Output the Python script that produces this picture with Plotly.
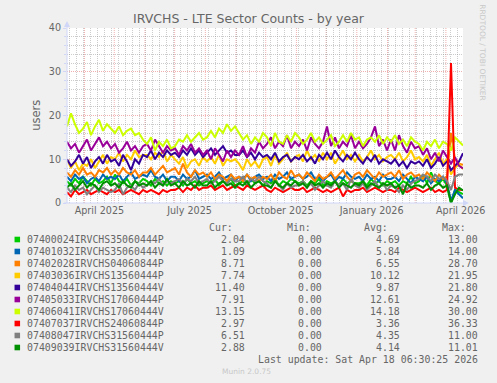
import pandas as pd
import plotly.graph_objects as go

# ---- data -------------------------------------------------------------------
START = "2025-03-14 06:30"
END = "2026-04-18 06:30"

names = [
    "07400024IRVCHS35060444P", "07401032IRVCHS35060444V", "07402028IRVCHS04060844P",
    "07403036IRVCHS13560444P", "07404044IRVCHS13560444V", "07405033IRVCHS17060444P",
    "07406041IRVCHS17060444V", "07407037IRVCHS24060844P", "07408047IRVCHS31560444P",
    "07409039IRVCHS31560444V",
]
colors = ["#00CC00", "#0066B3", "#FF8000", "#FFCC00", "#330099",
          "#990099", "#CCFF00", "#FF0000", "#808080", "#008F00"]

cur = [2.04, 1.09, 8.71, 7.74, 11.40, 7.91, 13.15, 2.97, 6.51, 2.88]
mins = [0.00, 0.00, 0.00, 0.00, 0.00, 0.00, 0.00, 0.00, 0.00, 0.00]
avg = [4.69, 5.84, 6.55, 10.12, 9.87, 12.61, 14.18, 3.36, 4.35, 4.14]
mx = [13.00, 14.00, 28.70, 21.95, 21.80, 24.92, 30.00, 36.33, 11.00, 11.01]

green_p = [5, 4, 5.5, 4.5, 6, 5, 4, 5.5, 4.5, 5, 6, 4.5,
           6.5, 5, 4.5, 5.5, 4, 5, 4.5, 5.5,
           5, 4, 5.5, 4.5, 5, 4, 5,
           4.5, 5, 4, 5.5, 4.5, 5, 4, 4.5,
           5, 4.5, 5.5, 4, 5, 4.5, 5.5, 4,
           4.5, 5, 4, 5.5, 4.5, 5, 4,
           5, 4.5, 5.5, 4, 5, 4.5, 5.5, 5,
           4.5, 5, 4, 5, 4.5, 5.5, 4,
           5, 4.5, 5, 4, 5.5, 4.5, 5, 4.5,
           4.5, 5, 4, 5.5, 4.5, 5, 4, 5,
           4.5, 5, 4, 5, 4.5, 6, 4.5,
           5, 6.5, 4.5, 7, 5, 4.5, 5.5, 4,
           0, 3, 2.5, 2.04]
blue_v = [6, 5, 6.5, 5.5, 6, 4.5, 5.5, 6, 5, 6.5, 5.5, 6,
          5.5, 6.5, 5, 6, 7, 5.5, 6, 6.5,
          6, 7.5, 6, 5.5, 6.5, 5, 6,
          6, 5, 6.5, 5.5, 6, 7.5, 5.5, 6,
          6.5, 5.5, 6, 7, 5.5, 6, 6.5, 5,
          6, 5.5, 6.5, 5, 6, 6.5, 5.5,
          6, 5, 6.5, 5.5, 6, 7, 5.5, 6,
          6.5, 5.5, 6, 7, 5.5, 6, 5,
          6, 6.5, 5, 6, 5.5, 7, 6, 5.5,
          6, 5, 6.5, 5.5, 6, 5, 6.5, 5.5,
          5.5, 6, 5, 6.5, 5.5, 4.5, 6,
          5.5, 5, 6, 4.5, 5.5, 5, 6, 4.5,
          0.5, 3, 2, 1.09]
orange_p = [7, 6, 7.5, 6.5, 8, 6.5, 7, 6, 7.5, 7, 8, 6.5,
            7.5, 6.5, 8, 7, 6.5, 7.5, 6, 7,
            7, 8, 6.5, 7.5, 8.5, 7, 7.5,
            8, 6.5, 9, 7, 6, 7.5, 6.5, 7,
            6, 7, 5.5, 6.5, 6, 5, 6.5, 5.5,
            6, 5, 6.5, 5.5, 6, 5, 6,
            5.5, 6.5, 5, 7, 6, 5.5, 7.5, 6,
            6.5, 5.5, 7, 6, 5, 6.5, 5.5,
            6, 7, 5.5, 6.5, 7.5, 6, 5, 6.5,
            7, 6, 7.5, 6.5, 5.5, 7, 6, 6.5,
            7, 6, 7.5, 5.5, 6.5, 7, 6,
            6.5, 5.5, 7, 6, 5, 6.5, 5.5, 6,
            16, 10, 9, 8.71]
gold_p = [10, 8, 9.5, 7.5, 9, 8.5, 10, 8, 9.5, 11, 9, 10.5,
          10, 11.5, 9.5, 11, 10, 12, 10.5, 11,
          11, 10, 11.5, 10.5, 12, 9.5, 11,
          10, 9, 10.5, 8, 9.5, 10, 8.5, 10.5,
          9.5, 10.5, 9, 11, 8.5, 10, 9.5, 10,
          9, 7.5, 10, 8.5, 9.5, 8, 10,
          10.5, 8.5, 11, 9, 10, 11.5, 9.5, 10.5,
          11, 9.5, 12, 10, 11, 9.5, 11.5,
          10, 11.5, 9, 10.5, 12, 10, 11, 9.5,
          11, 9.5, 10.5, 12, 10, 11, 9.5, 10.5,
          11, 10, 11.5, 9.5, 10.5, 12, 10,
          10.5, 9.5, 11, 8.5, 10, 11.5, 9, 10,
          6.5, 8, 9, 7.74]
indigo_v = [10, 8.5, 9.5, 11, 9, 10.5, 8, 9.5, 10.5, 9, 11, 9.5,
            10, 8.5, 11, 9.5, 7.5, 10, 9, 11,
            10.5, 12, 10, 11.5, 10.5, 12, 11,
            11.5, 10.5, 12, 11, 12.5, 11, 12, 10.5,
            11.5, 12.5, 11, 12, 13, 11.5, 12, 11,
            11, 12, 10.5, 11.5, 10, 11.5, 10.5,
            11, 10, 11.5, 9.5, 10.5, 11, 9.5, 10.5,
            10, 11, 9.5, 10.5, 9, 11, 10,
            11.5, 10, 12, 10.5, 9.5, 11, 10, 11.5,
            10, 9, 10.5, 9.5, 11, 9, 10, 9.5,
            9, 10, 8.5, 9.5, 8, 9.5, 9,
            9.5, 8.5, 10, 8, 9, 10.5, 8.5, 9.5,
            7.5, 8.5, 9.5, 11.4]
purple_p = [14, 12.5, 13.5, 11.5, 13, 14.5, 12, 13.5, 15, 13, 14, 12.5,
            13.5, 11.5, 12.5, 14, 12, 13, 11.5, 13,
            13.5, 12, 14.5, 13, 11.5, 13, 12,
            12.5, 11, 13, 12, 13.5, 11.5, 12.5, 11,
            12, 10, 12.5, 11, 9.5, 12, 10.5, 12,
            11, 13, 10.5, 12.5, 11.5, 14, 12.5,
            13.5, 15, 12.5, 14, 13, 15.5, 12.5, 14,
            13, 14.5, 12, 15, 13.5, 12.5, 14,
            17.5, 13, 15, 12.5, 14, 13, 15.5, 12.5,
            14, 12.5, 13.5, 15, 17.5, 13, 14.5, 12,
            14.5, 12, 15.5, 13, 11.5, 14, 12.5,
            13, 11, 12.5, 10, 11.5, 9.5, 12, 10.5,
            9, 10.5, 8.5, 7.91]
lime_v = [17.5, 20.5, 18, 16, 17, 18.5, 15.5, 17.5, 19, 16.5, 18, 17,
          16, 17.5, 15.5, 16.5, 17, 15.5, 16, 14.5,
          13.5, 15, 12, 14, 13, 14.5, 12.5,
          13, 14.5, 14, 15.5, 14, 15, 16, 14.5,
          15, 16.5, 15, 17, 16, 18, 16.5, 17.5,
          16, 14.5, 15.5, 13.5, 15, 14, 16,
          15, 13, 16, 14, 13.5, 15.5, 14, 16,
          15, 13.5, 14.5, 16, 14, 15, 13.5,
          14.5, 15.5, 13, 14, 15.5, 14, 16, 14.5,
          15, 13, 14.5, 15, 14, 15.5, 13.5, 15,
          14, 15.5, 13.5, 14.5, 13, 15, 14,
          13.5, 12, 14, 13, 14.5, 12.5, 14, 13.5,
          12, 15, 14, 13.15]
red_p = [2.5, 1.5, 3, 2, 2.5, 3, 2, 2.5, 3, 2.5, 2, 3,
         2.5, 3, 2, 2.5, 3, 2.5, 2, 3,
         2.5, 3, 2.5, 2, 3, 2.5, 3,
         3, 3.5, 2.5, 3.5, 3, 4, 3, 3.5,
         3.5, 4, 3, 3.5, 4, 3, 3.5, 4,
         3.5, 3, 4, 3.5, 3, 3.5, 4,
         3, 2.5, 3.5, 3, 2.5, 3, 3.5, 3,
         3, 3.5, 2.5, 3, 3.5, 3, 2.5,
         3, 2.5, 3, 3.5, 1.5, 3, 2.5, 3,
         3, 3.5, 2.5, 3, 3.5, 3, 2.5, 3,
         3, 2.5, 3.5, 3, 2.5, 3, 3.5,
         3, 2.5, 3, 3.5, 2.5, 3, 2.5, 3,
         32, 3.5, 3, 2.97]
gray_p = [3.5, 2.5, 4, 3, 3.5, 2, 3, 4, 2.5, 3.5, 3, 2.5,
          3, 4.5, 2, 3.5, 4, 3, 4.5, 3.5,
          4, 5, 4.5, 5.5, 4, 5, 4.5,
          5, 5.5, 4.5, 5.5, 5, 6, 4.5, 5,
          5.5, 4.5, 5, 6, 5, 4.5, 5.5, 5,
          5, 6, 4.5, 5.5, 5, 6, 5,
          4.5, 3.5, 5, 4, 3, 4.5, 3.5, 4,
          4, 5, 3.5, 4.5, 3, 4, 5,
          4, 3.5, 5, 4, 4.5, 3, 5.5, 4,
          3.5, 4.5, 3, 4, 5, 3.5, 4.5, 3,
          4, 3.5, 2.5, 4, 3, 4.5, 5,
          5.5, 6.5, 6, 5, 6.5, 5.5, 6, 5,
          3, 6, 6.5, 6.51]
dkgreen_v = [3.5, 4.5, 3, 4, 5, 3.5, 4.5, 4, 3, 4.5, 5, 4,
             4.5, 3.5, 5, 4, 3.5, 5, 4, 4.5,
             4, 5, 3.5, 4.5, 4, 5.5, 4,
             4.5, 3.5, 5, 4, 4.5, 3.5, 5, 4,
             4, 5, 3.5, 4.5, 5, 4, 4.5, 3.5,
             4.5, 4, 5, 3.5, 4.5, 5, 4,
             4, 3.5, 5, 4, 3.5, 4.5, 4, 5,
             4, 4.5, 3.5, 5, 4, 4.5, 3.5,
             4.5, 4, 5, 3.5, 4.5, 4, 3.5, 4.5,
             4, 5, 3.5, 4.5, 4, 3.5, 4.5, 4,
             4.5, 3.5, 4, 2, 4.5, 3.5, 4,
             4, 3.5, 4.5, 3, 4, 4.5, 3.5, 4,
             0, 2, 3.5, 2.88]

series = [green_p, blue_v, orange_p, gold_p, indigo_v,
          purple_p, lime_v, red_p, gray_p, dkgreen_v]

label_months = ["2025-04-01", "2025-07-01", "2025-10-01", "2026-01-01", "2026-04-01"]
label_text = ["April 2025", "July 2025", "October 2025", "January 2026", "April 2026"]

# ---- style ------------------------------------------------------------------
FONT = "#666666"
AXIS = "#CFD6F8"
GRID = "rgba(143,143,143,0.45)"
MGRID = "rgba(222,79,79,0.45)"
DOT = "1px,1px"
SANS = "DejaVu Sans"
MONO = "DejaVu Sans Mono"
W, H = 497, 383
L, R, T, B = 67, 30, 28, 180
PW, PH = W - L - R, H - T - B


def px(x):
    return (x - L) / PW


def py(y):
    return (H - B - y) / PH


dates = pd.date_range(START, END, periods=len(lime_v))

fig = go.Figure()
for name, color, vals in zip(names, colors, series):
    fig.add_trace(go.Scatter(x=dates, y=vals, mode="lines", name=name,
                             line=dict(color=color, width=2)))

# monthly major grid (red dotted)
for d in pd.date_range("2025-04-01", "2026-04-01", freq="MS"):
    fig.add_shape(type="line", xref="x", yref="paper", x0=d, x1=d, y0=0, y1=1,
                  line=dict(color=MGRID, width=1, dash=DOT), layer="below")

# axes with arrows
fig.add_shape(type="line", xref="paper", yref="paper", x0=0, x1=0,
              y0=0, y1=py(25), line=dict(color=AXIS, width=1))
fig.add_shape(type="line", xref="paper", yref="paper", x0=px(64), x1=px(469),
              y0=0, y1=0, line=dict(color=AXIS, width=1))
fig.add_shape(type="path", xref="paper", yref="paper", fillcolor=AXIS, line=dict(width=0),
              path=f"M {px(L - 3)} {py(27)} L {px(L)} {py(21)} L {px(L + 3)} {py(27)} Z")
fig.add_shape(type="path", xref="paper", yref="paper", fillcolor=AXIS, line=dict(width=0),
              path=f"M {px(467)} {py(H - B - 3)} L {px(473)} {py(H - B)} L {px(467)} {py(H - B + 3)} Z")

ann = []
# y-axis title
ann.append(dict(text="users", x=px(35), y=0.5, xanchor="center", textangle=-90,
                showarrow=False, font=dict(family=SANS, size=11.5, color=FONT)))
# side credit
ann.append(dict(text="RRDTOOL / TOBI OETIKER", x=px(487), y=py(53), xanchor="center",
                textangle=90, showarrow=False,
                font=dict(family=SANS, size=7.5, color="#C8C8C8")))

# legend table
cols = [248, 326, 404, 483]
for hdr, cx in zip(["Cur:", "Min:", "Avg:", "Max:"], cols):
    ann.append(dict(text=hdr, x=px(cx - 12), y=py(227.5), xanchor="right", showarrow=False,
                    font=dict(family=MONO, size=9.9, color=FONT)))
for i, (name, color) in enumerate(zip(names, colors)):
    yc = 239.5 + 12 * i
    fig.add_shape(type="rect", xref="paper", yref="paper", x0=px(14), x1=px(19.6),
                  y0=py(yc + 2.8), y1=py(yc - 2.8), fillcolor=color, line=dict(width=0))
    ann.append(dict(text=name, x=px(26), y=py(yc), xanchor="left", showarrow=False,
                    font=dict(family=MONO, size=9.9, color=FONT)))
    for v, cx in zip([cur[i], mins[i], avg[i], mx[i]], cols):
        ann.append(dict(text=f"{v:.2f}", x=px(cx), y=py(yc), xanchor="right",
                        showarrow=False, font=dict(family=MONO, size=9.9, color=FONT)))
ann.append(dict(text="Last update: Sat Apr 18 06:30:25 2026", x=px(483), y=py(359.7),
                xanchor="right", showarrow=False, font=dict(family=MONO, size=9.9, color=FONT)))
ann.append(dict(text="Munin 2.0.75", x=px(248), y=py(371.7), xanchor="center", showarrow=False,
                font=dict(family=SANS, size=7.5, color="#C8C8C8")))
for a in ann:
    a.setdefault("xref", "paper")
    a.setdefault("yref", "paper")
    a.setdefault("yanchor", "middle")
    a.setdefault("borderpad", 0)

fig.update_layout(
    width=W, height=H,
    margin=dict(l=L, r=R, t=T, b=B, pad=0),
    paper_bgcolor="#F0F0F0", plot_bgcolor="#FFFFFF",
    showlegend=False,
    hovermode=False,
    title=dict(text="IRVCHS - LTE Sector Counts - by year", x=0.5, xanchor="center",
               y=1 - 19 / H, yanchor="middle",
               font=dict(family=SANS, size=12.5, color=FONT)),
    annotations=ann,
    xaxis=dict(
        type="date", range=[START, END],
        tickmode="array",
        tickvals=[pd.Timestamp(m) + pd.Timedelta(days=15) for m in label_months],
        ticktext=label_text,
        showgrid=False, zeroline=False, showline=False, ticks="",
        tickfont=dict(family=SANS, size=9.6, color=FONT),
        minor=dict(dtick=7 * 86400000, tick0="2025-03-17", showgrid=True,
                   gridcolor=GRID, griddash=DOT, gridwidth=1),
    ),
    yaxis=dict(
        range=[0, 40], dtick=10, tick0=0,
        showgrid=True, gridcolor=MGRID, griddash=DOT, gridwidth=1,
        zeroline=False, showline=False,
        ticks="outside", ticklen=3, tickcolor=AXIS,
        tickfont=dict(family=SANS, size=9.6, color=FONT),
        minor=dict(dtick=2, showgrid=True, gridcolor=GRID, griddash=DOT, gridwidth=1,
                   ticks="outside", ticklen=2, tickcolor=AXIS),
    ),
)

fig.write_html("out.html", config={"displayModeBar": False},
               post_script="document.body.style.margin='0';")
